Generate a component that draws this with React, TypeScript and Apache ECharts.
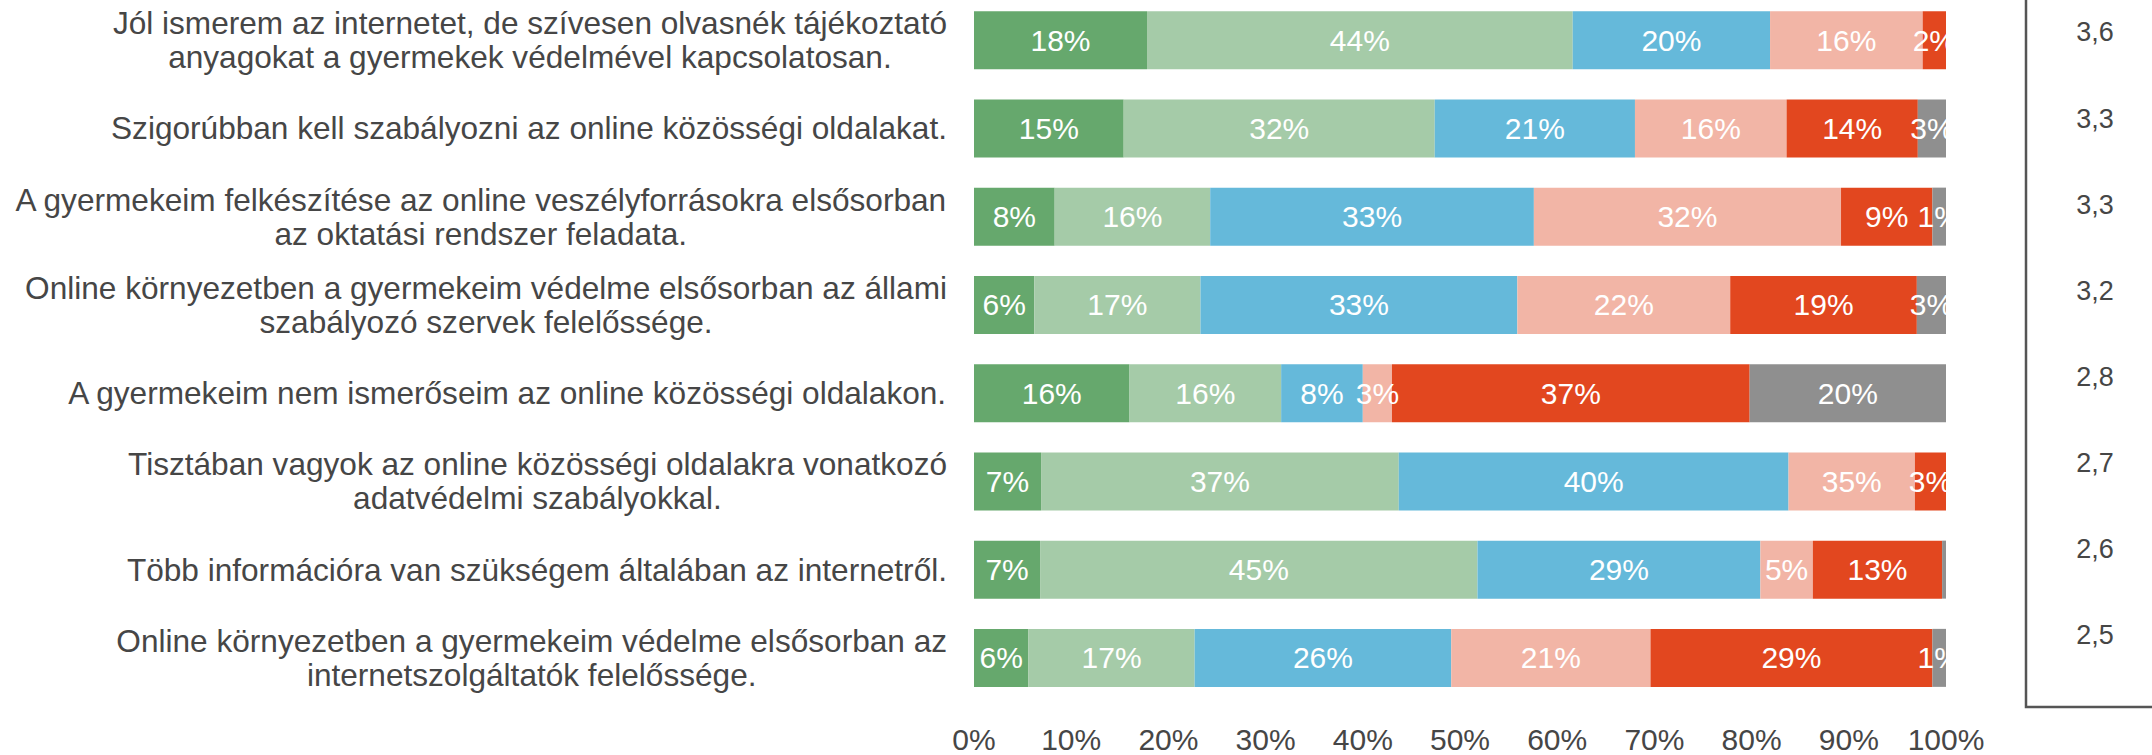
import React, { useEffect, useRef } from "react";
import * as echarts from "echarts";

const categories = [
  "Jól ismerem az internetet, de szívesen olvasnék tájékoztató\nanyagokat a gyermekek védelmével kapcsolatosan.",
  "Szigorúbban kell szabályozni az online közösségi oldalakat.",
  "A gyermekeim felkészítése az online veszélyforrásokra elsősorban\naz oktatási rendszer feladata.",
  "Online környezetben a gyermekeim védelme elsősorban az állami\nszabályozó szervek felelőssége.",
  "A gyermekeim nem ismerőseim az online közösségi oldalakon.",
  "Tisztában vagyok az online közösségi oldalakra vonatkozó\nadatvédelmi szabályokkal.",
  "Több információra van szükségem általában az internetről.",
  "Online környezetben a gyermekeim védelme elsősorban az\ninternetszolgáltatók felelőssége.",
];

const seriesNames = ["5", "4", "3", "2", "1", "Nem tudja"];
const s5 = [17.8, 15.4, 8.3, 6.2, 16.0, 6.9, 6.8, 5.6];
const s4 = [43.8, 32.0, 16.0, 17.1, 15.6, 36.8, 45.0, 17.1];
const s3 = [20.3, 20.6, 33.3, 32.6, 8.4, 40.1, 29.1, 26.4];
const s2 = [15.7, 15.6, 31.6, 21.9, 3.0, 13.0, 5.4, 20.5];
const s1 = [2.4, 13.5, 9.4, 19.2, 36.8, 3.2, 13.3, 29.0];
const sNA = [0, 2.9, 1.4, 3.0, 20.2, 0, 0.4, 1.4];
const means = [3.6, 3.3, 3.3, 3.2, 2.8, 2.7, 2.6, 2.5];
const xTicks = [0, 10, 20, 30, 40, 50, 60, 70, 80, 90, 100];
// label printed in the source that differs from the bar length
const labelOverrides = [{ series: 3, row: 5, text: "35%" }];

const colors = ["#66A86D", "#A5CBA8", "#65B9DA", "#F2B5A6", "#E2471F", "#8F8F8F"];
const FONT = "'Liberation Sans', Arial, sans-serif";
const TEXT = "#464646";
// the canvas starts above the page so the plot can begin slightly above the visible top
const SHIFT = 20;

export default function App() {
  const ref = useRef<HTMLDivElement>(null);
  useEffect(() => {
    if (!ref.current) return;
    const chart = echarts.init(ref.current, null, { renderer: "svg" });
    const allSeries = [s5, s4, s3, s2, s1, sNA];
    const option: any = {
      animation: false,
      backgroundColor: "#ffffff",
      textStyle: { fontFamily: FONT },
      grid: [
        { left: 974, right: 206, top: SHIFT - 4, bottom: 53 },
        { left: 2026, right: 0, top: SHIFT - 10.6, bottom: 76.6 },
      ],
      xAxis: [
        {
          type: "value",
          gridIndex: 0,
          min: xTicks[0],
          max: xTicks[xTicks.length - 1],
          interval: 10,
          axisLine: { show: false },
          axisTick: { show: false },
          splitLine: { show: false },
          axisLabel: {
            formatter: (v: number) => `${v}%`,
            fontSize: 30,
            lineHeight: 30,
            color: TEXT,
            fontFamily: FONT,
            margin: 22,
          },
        },
        {
          type: "value",
          gridIndex: 1,
          show: false,
        },
      ],
      yAxis: [
        {
          type: "category",
          gridIndex: 0,
          inverse: true,
          data: categories,
          axisLine: { show: false },
          axisTick: { show: false },
          axisLabel: {
            margin: 27,
            align: "right",
            formatter: (v: string) =>
              v
                .split("\n")
                .map((l) => `{c|${l}}`)
                .join("\n"),
            rich: {
              c: {
                align: "center",
                fontSize: 31.6,
                lineHeight: 34,
                color: TEXT,
                fontFamily: FONT,
              },
            },
          },
        },
        {
          type: "category",
          gridIndex: 1,
          inverse: true,
          data: means.map((m) => m.toFixed(1).replace(".", ",")),
          axisLine: { show: false },
          axisTick: { show: false },
          axisLabel: {
            inside: true,
            align: "center",
            margin: 69,
            fontSize: 27,
            color: TEXT,
            fontFamily: FONT,
          },
        },
      ],
      series: allSeries.map((vals, si) => ({
        name: seriesNames[si],
        type: "bar",
        stack: "total",
        xAxisIndex: 0,
        yAxisIndex: 0,
        barWidth: 58,
        data: vals,
        itemStyle: { color: colors[si] },
        label: {
          show: true,
          position: "inside",
          color: "#ffffff",
          fontSize: 30,
          fontFamily: FONT,
          formatter: (p: any) => {
            const ov = labelOverrides.find((o) => o.series === si && o.row === p.dataIndex);
            if (ov) return ov.text;
            return p.value < 1 ? "" : `${Math.round(p.value)}%`;
          },
        },
      })),
      graphic: [
        {
          type: "polyline",
          shape: { points: [[2026, 0], [2026, SHIFT + 707], [2160, SHIFT + 707]] },
          style: { stroke: "#555555", lineWidth: 2.5, fill: null },
          z: 10,
        },
      ],
    };
    chart.setOption(option);
    return () => chart.dispose();
  }, []);
  return (
    <div
      ref={ref}
      style={{ position: "fixed", left: 0, top: -SHIFT, width: 2152, height: 755 + SHIFT }}
    />
  );
}
